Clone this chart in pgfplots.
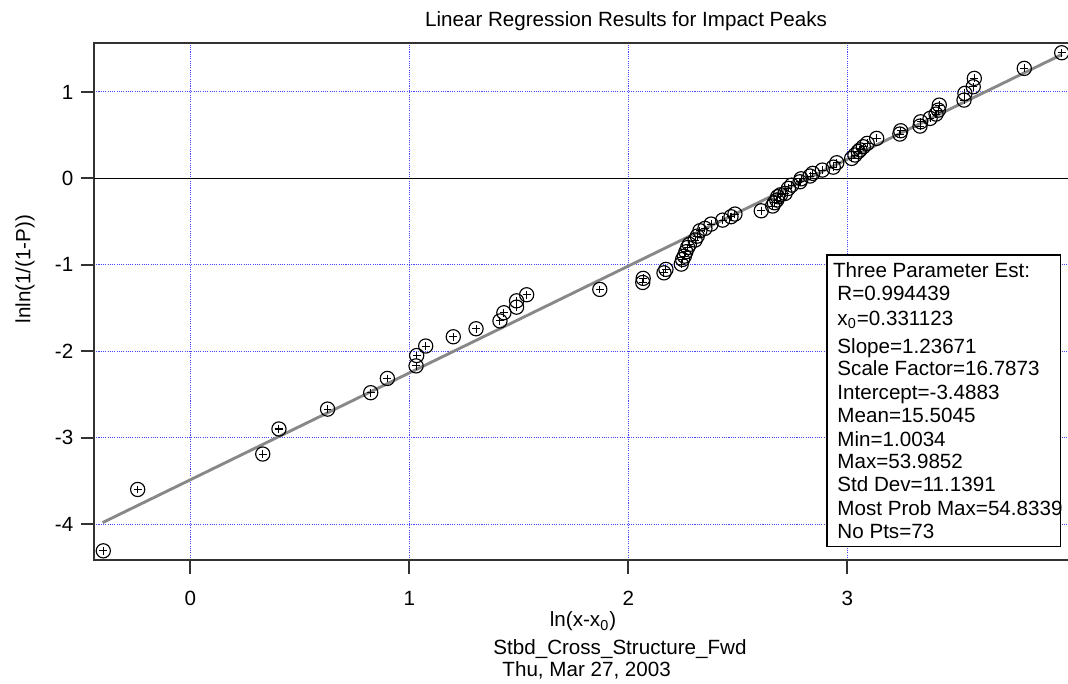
\documentclass[border=0pt]{standalone}
\usepackage{fontspec}
\setmainfont{Liberation Sans}
\usepackage{pgfplots}
\pgfplotsset{compat=1.18}
\usepackage{pgfplotstable}
\definecolor{gridblue}{RGB}{70,70,255}
\definecolor{fitgray}{RGB}{136,136,136}
\definecolor{axisgray}{RGB}{50,50,50}

\pgfplotstableread{
x y
-0.397 -4.31
-0.240 -3.60
0.331 -3.19
0.405 -2.90
0.627 -2.67
0.824 -2.48
0.900 -2.315
1.031 -2.17
1.034 -2.05
1.075 -1.94
1.201 -1.833
1.305 -1.74
1.414 -1.65
1.432 -1.555
1.490 -1.49
1.490 -1.417
1.536 -1.347
1.870 -1.285
2.066 -1.205
2.068 -1.157
2.163 -1.093
2.172 -1.053
2.242 -0.992
2.248 -0.938
2.256 -0.900
2.263 -0.850
2.271 -0.800
2.279 -0.764
2.305 -0.714
2.315 -0.668
2.327 -0.606
2.350 -0.579
2.378 -0.529
2.431 -0.483
2.469 -0.444
2.487 -0.413
2.607 -0.375
2.659 -0.320
2.667 -0.282
2.678 -0.251
2.682 -0.213
2.695 -0.190
2.716 -0.174
2.731 -0.116
2.746 -0.078
2.784 -0.039
2.789 -0.005
2.830 0.027
2.842 0.058
2.886 0.096
2.936 0.130
2.952 0.181
3.020 0.231
3.035 0.270
3.050 0.310
3.058 0.330
3.073 0.366
3.091 0.405
3.134 0.463
3.240 0.513
3.244 0.551
3.332 0.605
3.335 0.655
3.378 0.694
3.405 0.744
3.416 0.790
3.420 0.848
3.533 0.906
3.537 0.984
3.575 1.060
3.580 1.157
3.808 1.273
3.979 1.454
}\pts

\pgfplotstableread{
x y
-0.40 -3.983
3.98 1.434
}\fitline

\begin{document}
\begin{tikzpicture}
\begin{axis}[
  at={(0pt,0pt)}, anchor=south west,
  scale only axis, width=474.1pt, height=251pt,
  xmin=-0.4397, xmax=4.02, ymin=-4.418, ymax=1.566,
  xtick={0,1,2,3}, xticklabels={0,1,2,3},
  ytick={-4,-3,-2,-1,0,1}, yticklabels={-4,-3,-2,-1,0,1},
  tick align=outside, tick pos=left,
  major tick length=6.5pt,
  tick style={axisgray, line width=0.9pt},
  axis line style={axisgray, line width=0.9pt},
  grid=major, grid style={gridblue, dash pattern=on 0.5pt off 0.6pt, line width=0.5pt},
  ticklabel style={font=\fontsize{10}{12}\selectfont},
  xticklabel style={yshift=-5pt},
]
\addplot[black, line width=0.6pt, forget plot] coordinates {(-0.4397,0) (4.02,0)};
\addplot[only marks, mark=o, mark size=3.45pt, mark options={line width=0.55pt, black}] table {\pts};
\addplot[only marks, mark=+, mark size=1.9pt, mark options={line width=0.5pt, black}] table {\pts};
\addplot[fitgray, line width=1.4pt] table {\fitline};
\end{axis}

\node[anchor=base, font=\fontsize{10}{12}\selectfont] at (258.3pt,258.9pt) {Linear Regression Results for Impact Peaks};
\node[rotate=90, anchor=center, font=\fontsize{10}{12}\selectfont] at (-33.5pt,141.3pt) {lnln(1/(1-P))};
\node[anchor=base, font=\fontsize{10}{12}\selectfont] at (237.4pt,-32.4pt) {ln(x-x\textsubscript{0})};
\node[anchor=base west, inner sep=0pt, font=\fontsize{10}{12}\selectfont] at (193.7pt,-45.6pt) {Stbd\_Cross\_Structure\_Fwd};
\node[anchor=base west, inner sep=0pt, font=\fontsize{10}{12}\selectfont] at (198.1pt,-56.3pt) {Thu, Mar 27, 2003};

\draw[black, line width=0.6pt, fill=white] (355.8pt,6.5pt) rectangle (469.3pt,148.1pt);
\begin{scope}[every node/.style={anchor=base west, inner sep=0pt, font=\fontsize{10}{12}\selectfont}]
\node at (358.6pt,137.2pt) {Three Parameter Est:};
\node at (360.7pt,125.9pt) {R=0.994439};
\node at (360.7pt,114.1pt) {x\textsubscript{0}=0.331123};
\node at (360.7pt,100.3pt) {Slope=1.23671};
\node at (360.7pt,89.5pt) {Scale Factor=16.7873};
\node at (360.7pt,78.2pt) {Intercept=-3.4883};
\node at (360.7pt,66.8pt) {Mean=15.5045};
\node at (360.7pt,55.3pt) {Min=1.0034};
\node at (360.7pt,44.5pt) {Max=53.9852};
\node at (360.7pt,33.2pt) {Std Dev=11.1391};
\node at (360.7pt,21.8pt) {Most Prob Max=54.8339};
\node at (360.7pt,10.5pt) {No Pts=73};
\end{scope}

\pgfresetboundingbox
\path[use as bounding box] (-45.6pt,-59.7pt) rectangle (472.8pt,271.9pt);
\end{tikzpicture}
\end{document}
